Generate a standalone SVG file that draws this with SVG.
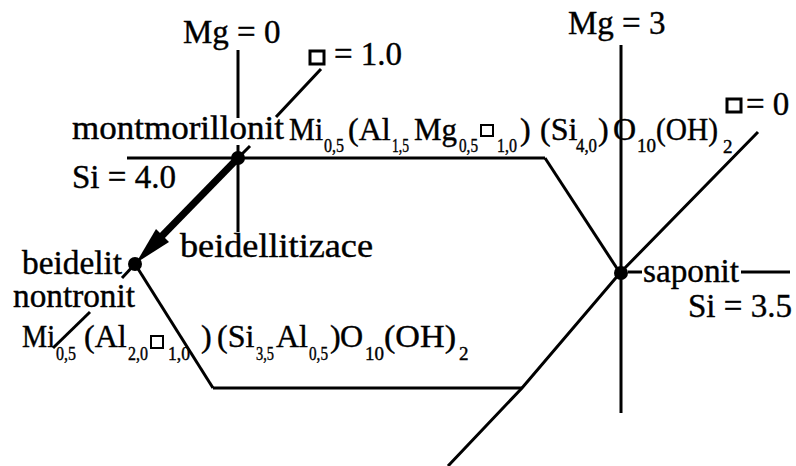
<svg xmlns="http://www.w3.org/2000/svg" width="796" height="466" viewBox="0 0 796 466">
<style>
text{font-family:"Liberation Serif","Times New Roman",serif;fill:#000;stroke:#000;stroke-width:0.4}
.m{font-size:33px}
.f{font-size:32px}
.s{font-size:19px}
.ln{stroke:#000;stroke-width:3;fill:none;stroke-linecap:butt}
.sq{stroke:#000;fill:none}
</style>
<rect width="796" height="466" fill="#fff"/>
<g id="connectors">
<line class="ln" x1="238" y1="50" x2="238" y2="118"/>
<line class="ln" x1="238" y1="145" x2="238" y2="232"/>
<line class="ln" x1="621" y1="45" x2="621" y2="413"/>
<line class="ln" x1="127" y1="158" x2="545" y2="158"/>
<line class="ln" x1="545" y1="158" x2="620" y2="273"/>
<line class="ln" x1="135" y1="264" x2="213" y2="388"/>
<line class="ln" x1="213" y1="388" x2="522" y2="388"/>
<polyline class="ln" points="758,132 620,273 522,388 448,466"/>
<line class="ln" x1="321" y1="69" x2="276" y2="117"/>
<line class="ln" x1="250" y1="146" x2="238" y2="158"/>
<line class="ln" x1="135" y1="264" x2="122" y2="278"/>
<line class="ln" x1="90" y1="312" x2="53" y2="348"/>
<line class="ln" x1="628" y1="272" x2="642" y2="272"/>
<line class="ln" x1="741" y1="272" x2="790" y2="272"/>
<line x1="238" y1="158" x2="158" y2="240" stroke="#000" stroke-width="7"/>
<polygon points="136,263 169,242 156,229" fill="#000"/>
</g>
<g id="montmorillonit">
<circle cx="238" cy="158" r="7"/>
<text class="m" x="72" y="139" textLength="212" lengthAdjust="spacingAndGlyphs">montmorillonit</text>
</g>
<g id="formula1">
<text class="f" x="289" y="140" textLength="34" lengthAdjust="spacingAndGlyphs">Mi</text>
<text class="s" x="324" y="152" textLength="20" lengthAdjust="spacingAndGlyphs">0,5</text>
<text class="f" x="348" y="140">(Al</text>
<text class="s" x="392" y="152" textLength="17" lengthAdjust="spacingAndGlyphs">1,5</text>
<text class="f" x="414" y="140" textLength="43" lengthAdjust="spacingAndGlyphs">Mg</text>
<text class="s" x="459" y="152" textLength="19" lengthAdjust="spacingAndGlyphs">0,5</text>
<rect class="sq" x="481" y="125" width="12" height="11" stroke-width="2"/>
<text class="s" x="497" y="152" textLength="20" lengthAdjust="spacingAndGlyphs">1,0</text>
<text class="f" x="520" y="140">)</text>
<text class="f" x="540" y="140">(Si</text>
<text class="s" x="576" y="152" textLength="21" lengthAdjust="spacingAndGlyphs">4,0</text>
<text class="f" x="598" y="140">)</text>
<text class="f" x="613" y="140">O</text>
<text class="s" x="637" y="152">10</text>
<text class="f" x="656" y="140" textLength="62" lengthAdjust="spacingAndGlyphs">(OH)</text>
<text class="s" x="723" y="153">2</text>
</g>
<g id="mg0">
<text class="m" x="183" y="43">Mg = 0</text>
</g>
<g id="mg3">
<text class="m" x="568" y="34">Mg = 3</text>
</g>
<g id="vac1">
<rect class="sq" x="310" y="51" width="14" height="13" stroke-width="3"/>
<text class="m" x="334" y="65">= 1.0</text>
</g>
<g id="vac0">
<rect class="sq" x="727" y="99" width="14" height="13" stroke-width="3"/>
<text class="m" x="746" y="115">= 0</text>
</g>
<g id="si4">
<text class="m" x="72" y="188">Si = 4.0</text>
</g>
<g id="beidellitizace">
<text class="m" x="180" y="257" textLength="193" lengthAdjust="spacingAndGlyphs">beidellitizace</text>
</g>
<g id="beidelit">
<circle cx="135" cy="264" r="7"/>
<text class="m" x="22" y="274" textLength="100" lengthAdjust="spacingAndGlyphs">beidelit</text>
<text class="m" x="13" y="307" textLength="122" lengthAdjust="spacingAndGlyphs">nontronit</text>
</g>
<g id="formula2">
<text class="f" x="22" y="347" textLength="33" lengthAdjust="spacingAndGlyphs">Mi</text>
<text class="s" x="56" y="360" textLength="20" lengthAdjust="spacingAndGlyphs">0,5</text>
<text class="f" x="84" y="347">(Al</text>
<text class="s" x="128" y="360" textLength="20" lengthAdjust="spacingAndGlyphs">2,0</text>
<rect class="sq" x="151" y="336" width="12" height="12" stroke-width="2"/>
<text class="s" x="168" y="360" textLength="22" lengthAdjust="spacingAndGlyphs">1,0</text>
<text class="f" x="201" y="347">)</text>
<text class="f" x="217" y="347">(Si</text>
<text class="s" x="256" y="360" textLength="18" lengthAdjust="spacingAndGlyphs">3,5</text>
<text class="f" x="276" y="347">Al</text>
<text class="s" x="309" y="360" textLength="19" lengthAdjust="spacingAndGlyphs">0,5</text>
<text class="f" x="330" y="347">)</text>
<text class="f" x="340" y="347">O</text>
<text class="s" x="365" y="360">10</text>
<text class="f" x="384" y="347" textLength="72" lengthAdjust="spacingAndGlyphs">(OH)</text>
<text class="s" x="459" y="360">2</text>
</g>
<g id="saponit">
<circle cx="621" cy="273" r="7"/>
<text class="m" x="643" y="282" textLength="96" lengthAdjust="spacingAndGlyphs">saponit</text>
<text class="m" x="688" y="317">Si = 3.5</text>
</g>
</svg>
